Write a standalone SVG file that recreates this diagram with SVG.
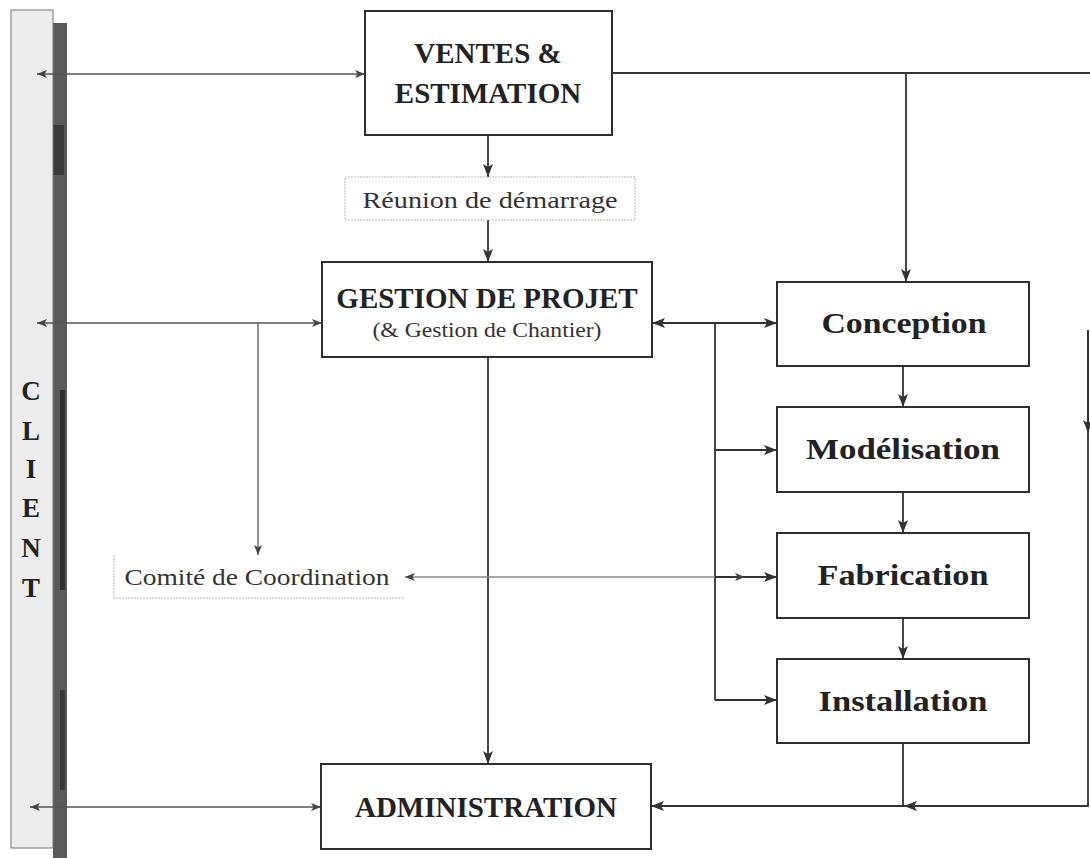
<svg xmlns="http://www.w3.org/2000/svg" width="1090" height="858" viewBox="0 0 1090 858">
  <style>
    .box { fill: #ffffff; stroke: #2e2e2e; stroke-width: 2; }
    .note { fill: #ffffff; stroke: #b8b8b8; stroke-width: 1; stroke-dasharray: 2 1; }
    .title { font-family: "Liberation Serif", "DejaVu Serif", serif; font-weight: bold; font-size: 29px; fill: #222; text-anchor: middle; }
    .sub { font-family: "Liberation Serif", "DejaVu Serif", serif; font-size: 22px; fill: #333; text-anchor: middle; }
    .label { font-family: "Liberation Serif", "DejaVu Serif", serif; font-size: 24px; fill: #333; text-anchor: middle; }
    .wire { fill: none; stroke: #333; stroke-width: 1.8; }
    .thin { fill: none; stroke: #555; stroke-width: 1.3; }
    .faint { fill: none; stroke: #8a8a8a; stroke-width: 1.5; }
    .client { font-family: "Liberation Serif", "DejaVu Serif", serif; font-weight: bold; font-size: 27px; fill: #222; text-anchor: middle; }
  </style>
  <defs>
    <marker id="big" markerUnits="userSpaceOnUse" markerWidth="14" markerHeight="10" refX="13" refY="5" orient="auto-start-reverse">
      <path d="M0,0 L13,5 L0,10 L3,5 Z" fill="#333"/>
    </marker>
    <marker id="small" markerUnits="userSpaceOnUse" markerWidth="11" markerHeight="8" refX="10" refY="4" orient="auto-start-reverse">
      <path d="M0,0 L10,4 L0,8 L2.5,4 Z" fill="#444"/>
    </marker>
  </defs>
  <rect width="1090" height="858" fill="#ffffff"/>

  <!-- client column -->
  <g id="client">
    <rect x="53" y="23" width="14" height="835" fill="#5a5a5a"/>
    <rect x="53" y="125" width="11" height="50" fill="#3a3a3a"/>
    <rect x="60" y="390" width="5" height="200" fill="#2f2f2f"/>
    <rect x="60" y="690" width="5" height="100" fill="#3a3a3a"/>
    <rect x="11" y="10" width="42" height="838" fill="#ececec" stroke="#777" stroke-width="1"/>
    <text class="client" x="31" y="400">C</text>
    <text class="client" x="31" y="440">L</text>
    <text class="client" x="31" y="478">I</text>
    <text class="client" x="31" y="517">E</text>
    <text class="client" x="31" y="557">N</text>
    <text class="client" x="31" y="597">T</text>
  </g>

  <!-- connectors -->
  <g id="connectors">
    <line class="thin" x1="37" y1="74" x2="365" y2="74" marker-start="url(#small)" marker-end="url(#small)"/>
    <line class="thin" x1="37" y1="323" x2="322" y2="323" marker-start="url(#small)" marker-end="url(#small)"/>
    <line class="thin" x1="258" y1="323" x2="258" y2="555" marker-end="url(#small)"/>
    <line class="thin" x1="30" y1="807" x2="321" y2="807" marker-start="url(#small)" marker-end="url(#small)"/>

    <line class="wire" x1="488" y1="135" x2="488" y2="177" marker-end="url(#big)"/>
    <line class="wire" x1="488" y1="220" x2="488" y2="262" marker-end="url(#big)"/>
    <line class="wire" x1="488" y1="357" x2="488" y2="764" marker-end="url(#big)"/>

    <line class="wire" x1="612" y1="73" x2="1090" y2="73"/>
    <line class="wire" x1="906" y1="73" x2="906" y2="282" marker-end="url(#big)"/>

    <path class="wire" d="M1088,330 V806 H651" marker-end="url(#big)"/>
    <line class="wire" x1="1088" y1="330" x2="1088" y2="433" marker-end="url(#big)"/>
    <line class="wire" x1="1000" y1="806" x2="904" y2="806" marker-end="url(#big)"/>
    <line class="wire" x1="903" y1="743" x2="903" y2="806"/>

    <line class="wire" x1="652" y1="323" x2="777" y2="323" marker-start="url(#big)" marker-end="url(#big)"/>
    <line class="wire" x1="715" y1="323" x2="715" y2="700"/>
    <line class="wire" x1="715" y1="450" x2="777" y2="450" marker-end="url(#big)"/>
    <line class="wire" x1="715" y1="577" x2="777" y2="577" marker-end="url(#big)"/>
    <line class="wire" x1="715" y1="577" x2="745" y2="577" marker-end="url(#small)"/>
    <line class="wire" x1="715" y1="700" x2="777" y2="700" marker-end="url(#big)"/>
    <line class="faint" x1="715" y1="577" x2="405" y2="577" marker-end="url(#small)"/>

    <line class="wire" x1="903" y1="366" x2="903" y2="407" marker-end="url(#big)"/>
    <line class="wire" x1="903" y1="492" x2="903" y2="533" marker-end="url(#big)"/>
    <line class="wire" x1="903" y1="618" x2="903" y2="659" marker-end="url(#big)"/>
  </g>

  <!-- nodes -->
  <g id="ventes">
    <rect class="box" x="365" y="11" width="247" height="124"/>
    <text class="title" x="488" y="63">VENTES &amp;</text>
    <text class="title" x="488" y="103">ESTIMATION</text>
  </g>
  <g id="reunion">
    <rect class="note" x="345" y="177" width="290" height="43"/>
    <text class="label" x="490" y="208" textLength="255" lengthAdjust="spacingAndGlyphs">Réunion de démarrage</text>
  </g>
  <g id="gestion">
    <rect class="box" x="322" y="262" width="330" height="95"/>
    <text class="title" x="487" y="308">GESTION DE PROJET</text>
    <text class="sub" x="487" y="337" textLength="229" lengthAdjust="spacingAndGlyphs">(&amp; Gestion de Chantier)</text>
  </g>
  <g id="comite">
    <path class="note" d="M114,555 V598 H405"/>
    <text class="label" x="257" y="585" textLength="265" lengthAdjust="spacingAndGlyphs">Comité de Coordination</text>
  </g>
  <g id="conception">
    <rect class="box" x="777" y="282" width="252" height="84"/>
    <text class="title" x="904" y="333" textLength="165" lengthAdjust="spacingAndGlyphs">Conception</text>
  </g>
  <g id="modelisation">
    <rect class="box" x="777" y="407" width="252" height="85"/>
    <text class="title" x="903" y="459" textLength="194" lengthAdjust="spacingAndGlyphs">Modélisation</text>
  </g>
  <g id="fabrication">
    <rect class="box" x="777" y="533" width="252" height="85"/>
    <text class="title" x="903" y="585" textLength="171" lengthAdjust="spacingAndGlyphs">Fabrication</text>
  </g>
  <g id="installation">
    <rect class="box" x="777" y="659" width="252" height="84"/>
    <text class="title" x="903" y="711" textLength="169" lengthAdjust="spacingAndGlyphs">Installation</text>
  </g>
  <g id="administration">
    <rect class="box" x="321" y="764" width="330" height="85"/>
    <text class="title" x="486" y="817">ADMINISTRATION</text>
  </g>
</svg>
